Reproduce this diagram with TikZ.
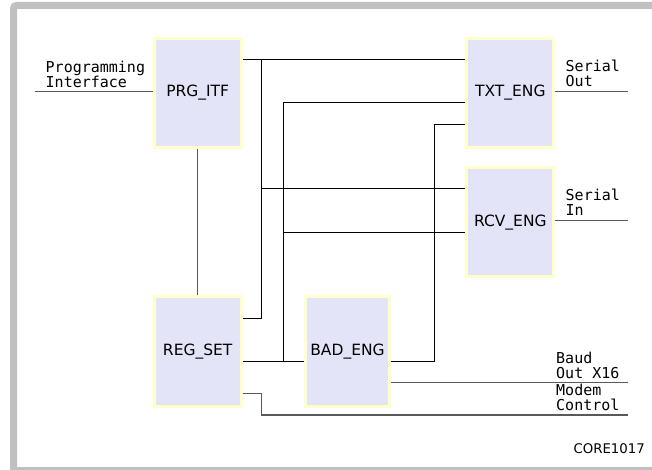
\documentclass[tikz,border=0pt]{standalone}
\usepackage{fontspec}
\setmainfont{DejaVu Sans}
\newfontfamily\portfont{DejaVu Sans Mono}
\usepackage{tikz}
\usetikzlibrary{calc}
\definecolor{coreFrame}{HTML}{C0C0C0}
\definecolor{coreFill}{HTML}{E4E4F8}
\definecolor{coreEdge}{HTML}{FFFFCC}
\tikzset{
	core/block/.style={draw=coreEdge, fill=coreFill, line width=3pt, inner sep=0pt,
		minimum width=87pt, minimum height=109.5pt, font=\fontsize{15.5}{15.5}\selectfont},
	core/wire/.style={draw=black, line width=1pt},
	core/port/.style={draw=black!65, line width=1.4pt},
	% port names sit on their line, left aligned
	core/pin/.style={anchor=south west, inner sep=0pt, align=left, text depth=0pt,
		font=\portfont\fontsize{15}{15}\selectfont},
}

\begin{document}
\begin{tikzpicture}[x=1pt, y=-1pt]
	\useasboundingbox (0,0) rectangle (652,470);
	\fill[white] (0,0) rectangle (652,470);
	\begin{scope}
		\clip (0,0) rectangle (652,470);
		\draw[coreFrame, line width=7pt, rounded corners=3pt] (660,5.5) -| (13.5,480);
		\fill[coreFrame] (10,466.7) rectangle (660,480);
	\end{scope}

	% blocks
	\node[core/block] (prg) at (197.7,92.8) {PRG\_ITF};
	\node[core/block] (txt) at (510.3,92.8) {TXT\_ENG};
	\node[core/block] (rcv) at (510.3,222.2) {RCV\_ENG};
	\node[core/block] (reg) at (197.7,351.5) {REG\_SET};
	\node[core/block, minimum width=84pt] (bad) at (347.5,351.5) {BAD\_ENG};

	% bus junctions
	\coordinate (busA) at (261.7,59.3);
	\coordinate (busB) at (283.3,102.7);
	\coordinate (busC) at (434.3,124.3);
	\coordinate (pgmEnd) at (35,91.7);
	\coordinate (soEnd) at (628,91.7);
	\coordinate (siEnd) at (628,220.7);
	\coordinate (baudEnd) at (628,382.7);
	\coordinate (mdmEnd) at (628,415);

	% internal wiring
	\draw[core/wire] (prg.east |- busA) -- (txt.west |- busA);
	\draw[core/wire] (reg.east |- 0,318.3) -| (busA);
	\draw[core/wire] (busA |- 0,188.7) -- (rcv.west |- 0,188.7);
	\draw[core/wire] (txt.west |- busB) -- (busB) |- (bad.west |- 0,361);
	\draw[core/wire] (reg.east |- 0,361) -- (bad.west |- 0,361);
	\draw[core/wire] (busB |- 0,232.3) -- (rcv.west |- 0,232.3);
	\draw[core/wire] (bad.east |- 0,361) -| (busC) -- (txt.west |- busC);
	\draw[core/port] (prg.south) -- (reg.north);

	% external ports
	\draw[core/port] (pgmEnd) -- (prg.west |- pgmEnd);
	\draw[core/port] (txt.east |- soEnd) -- (soEnd);
	\draw[core/port] (rcv.east |- siEnd) -- (siEnd);
	\draw[core/port] (bad.east |- baudEnd) -- (baudEnd);
	\draw[core/port] (reg.east |- 0,393.3) -| (busA |- mdmEnd) -- (mdmEnd);

	\node[core/pin] (pgm) at (45.5,88) {Programming\\Interface};
	\node[core/pin] (so) at (565.5,87) {Serial\\Out};
	\node[core/pin] (si) at (565.5,216) {Serial\\In};
	\node[core/pin] (baud) at (556,378.5) {Baud\\Out X16};
	\node[core/pin] (mdm) at (556,411) {Modem\\Control};

	\node[font=\fontsize{13.3}{13.3}\selectfont, anchor=east, inner sep=0pt] (tag) at (645,448.3) {CORE1017};
\end{tikzpicture}
\end{document}
